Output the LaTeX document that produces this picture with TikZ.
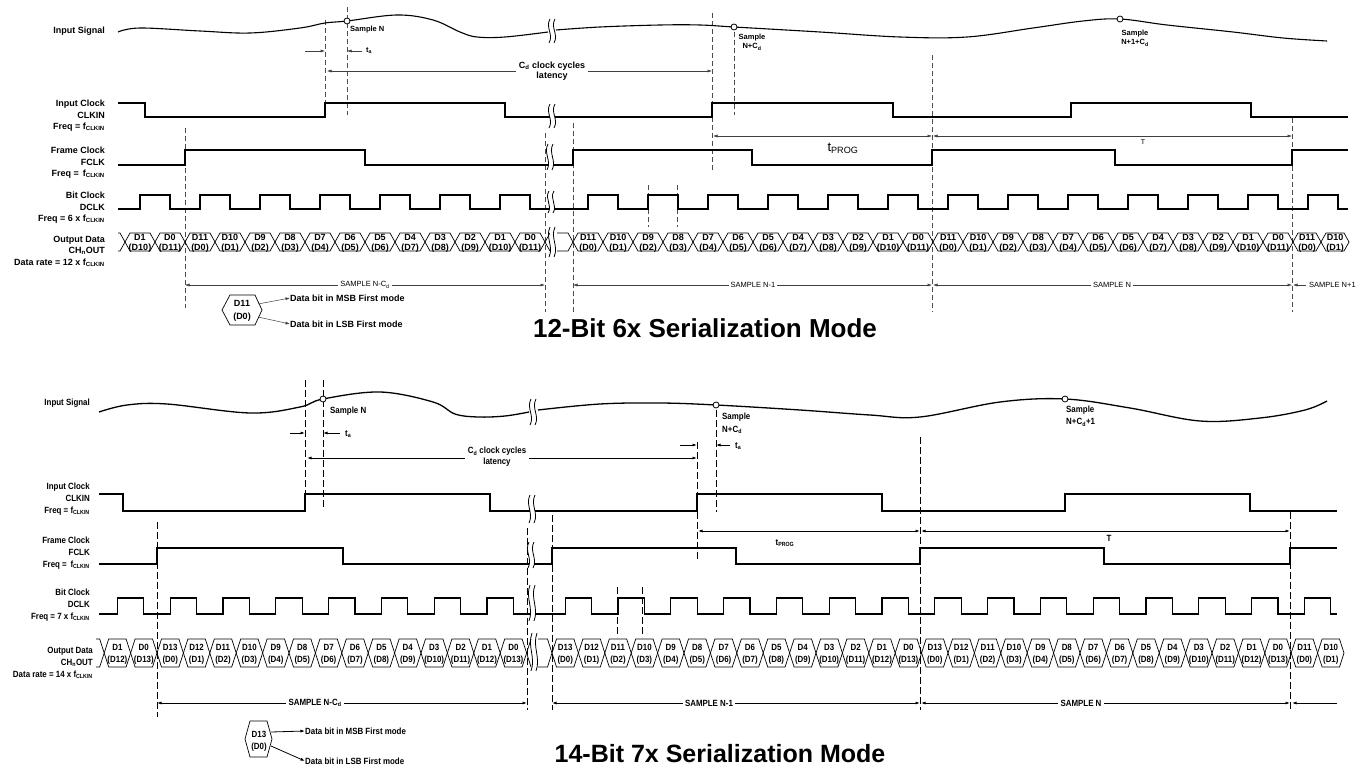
\documentclass[tikz,border=0pt]{standalone}
\usepackage{fontspec}
\setmainfont{Liberation Sans}
\newfontfamily\narrowsans[FakeStretch=0.88]{Liberation Sans}
\usetikzlibrary{arrows.meta}

\newcommand{\ssub}[1]{\textsubscript{#1}}
% break mark: x, y, half height
\newcommand{\cutmark}[3]{%
  \fill[white] (#1-2.5,#2-#3) rectangle (#1+2.5,#2+#3);
  \draw[cutline] (#1-2,#2-#3) .. controls (#1-7,#2-0.3*#3) and (#1+2,#2+0.3*#3) .. (#1-3,#2+#3);
  \draw[cutline] (#1+3,#2-#3) .. controls (#1-2,#2-0.3*#3) and (#1+7,#2+0.3*#3) .. (#1+2,#2+#3);
}

\tikzset{
  >={Latex[length=4.5pt,width=3pt]},
  wave/.style={line width=1.1pt},
  waveb/.style={line width=1.3pt},
  cell/.style={line width=0.7pt},
  cutline/.style={line width=0.8pt},
  dsh/.style={line width=0.6pt, black!70, dash pattern=on 5pt off 3pt},
  dshb/.style={line width=1pt, dash pattern=on 7pt off 3pt},
  dim/.style={line width=0.5pt, black!75},
  dimb/.style={line width=0.8pt},
  lbl/.style={font=\fontsize{9}{11.5}\selectfont\bfseries, align=right, anchor=east, inner sep=0pt},
  lblb/.style={font=\narrowsans\fontsize{9}{12.3}\selectfont\bfseries, align=right, anchor=east, inner sep=0pt},
  bitA/.style={font=\fontsize{9}{9}\selectfont\bfseries, inner sep=0pt},
  bitB/.style={font=\narrowsans\fontsize{9}{9}\selectfont\bfseries, inner sep=0pt},
  smpA/.style={font=\fontsize{7.5}{9.5}\selectfont\bfseries, inner sep=0pt},
  txtB/.style={font=\narrowsans\fontsize{9}{12}\selectfont\bfseries, inner sep=0pt},
  tagA/.style={font=\fontsize{7.5}{9}\selectfont, fill=white, inner sep=2pt},
  tagB/.style={font=\narrowsans\fontsize{9}{11}\selectfont\bfseries, fill=white, inner sep=2.5pt},
  note/.style={font=\fontsize{9}{11}\selectfont\bfseries, inner sep=0pt, anchor=west},
  noteb/.style={font=\narrowsans\fontsize{9}{11}\selectfont\bfseries, inner sep=0pt, anchor=west},
  dot/.style={circle, draw, fill=white, line width=0.8pt, inner sep=0pt, minimum size=6pt},
  ttl/.style={font=\fontsize{26}{30}\selectfont\bfseries, inner sep=0pt}
}

\begin{document}
\begin{tikzpicture}[x=1pt,y=-1pt]
  \fill[white] (0,0) rectangle (1360,770);
  \useasboundingbox (0,0) rectangle (1360,770);

  %%%%%%%%%% 12-bit 6x mode %%%%%%%%%%
  \node[lbl] (sigA) at (105,31) {Input Signal};
  \node[lbl] (clkA) at (105,116) {Input Clock\\CLKIN\\Freq = f\ssub{CLKIN}};
  \node[lbl] (fclkA) at (105,163) {Frame Clock\\FCLK\\Freq = \,f\ssub{CLKIN}};
  \node[lbl] (dclkA) at (105,208) {Bit Clock\\DCLK\\Freq = 6 x f\ssub{CLKIN}};
  \node[lbl] (outA) at (105,251) {Output Data\\CH\ssub{n}OUT\\Data rate = 12 x f\ssub{CLKIN}};

  % dashed markers
  \draw[dsh] (325,20) -- (325,117);
  \draw[dsh] (347,7) -- (347,115);
  \draw[dsh] (185,128) -- (185,308);
  \draw[dsh] (545,133) -- (545,312);
  \draw[dsh] (573,123) -- (573,312);
  \draw[dsh] (712,13) -- (712,170);
  \draw[dsh] (734,32) -- (734,115);
  \draw[dsh] (932,55) -- (932,312);
  \draw[dsh] (1292,118) -- (1292,312);
  \draw[dsh] (648,185) -- (648,227);
  \draw[dsh] (677,185) -- (677,227);

  % input signal
  \draw[wave] plot[smooth,tension=0.6] coordinates {(118,32) (140,28) (200,31) (250,33) (300,28) (325,23) (347,21) (397,15) (433,20) (460,32) (477,37) (505,37) (548,32)};
  \draw[wave] plot[smooth,tension=0.6] coordinates {(556,30) (600,27) (660,25) (700,25) (734,27) (820,32) (900,37) (967,37) (1033,28) (1083,21) (1120,19) (1167,25) (1233,32) (1283,38) (1327,41)};
  \node[dot] (smpN) at (347,21) {};
  \node[dot] (smpNC) at (734,27) {};
  \node[dot] (smpN1) at (1120,19) {};
  \node[smpA, anchor=west] (tsN) at (350,30) {Sample N};
  \node[smpA, align=center] (tsNC) at (752,42) {Sample\\N+C\ssub{d}};
  \node[smpA, align=center] (tsN1) at (1135,38) {Sample\\N+1+C\ssub{d}};

  % timing marks
  \draw[dim,->] (305,51) -- (325,51);
  \draw[dim,->] (362,51) -- (347,51);
  \node[smpA, anchor=west] (taA) at (366,51) {t\ssub{a}};
  \draw[dim,<->] (327,71) -- (712,71);
  \node[font=\fontsize{9}{10}\selectfont\bfseries, align=center, fill=white, inner sep=3pt] (latA) at (552,71) {C\ssub{d} clock cycles\\latency};
  \draw[dim,<->] (713,136) -- (932,136);
  \node[font=\fontsize{13}{14}\selectfont, inner sep=0pt] (tpA) at (843,148) {t\ssub{PROG}};
  \draw[dim,<->] (933,136) -- (1292,136);
  \node[font=\fontsize{7}{8}\selectfont, inner sep=0pt] (tA) at (1143,142) {T};

  % clocks
  \draw[wave] (118,103) -| (145,117) -| (325,103) -| (505,117) -| (712,103) -| (893,117) -| (1071,103) -| (1251,117) -- (1348,117);
  \draw[wave] (118,165) -| (185,150) -| (365,165) -| (573,150) -| (752,165) -| (932,150) -| (1115,165) -| (1292,150) -- (1348,150);
  \draw[wave] (118,209) \foreach \k in {0,...,6}{ -| (140+60*\k,195) -| (170+60*\k,209) }
    \foreach \k in {0,...,12}{ -| (588+60*\k,195) -| (618+60*\k,209) } -- (1348,209);

  % output data
  \draw[cell] (118,233) -- (120,233) -- (125,242) -- (120,251) -- (118,251);
  \foreach \hi/\lo [count=\i from 0] in {D1/D10,D0/D11,D11/D0,D10/D1,D9/D2,D8/D3,D7/D4,D6/D5,D5/D6,D4/D7,D3/D8,D2/D9,D1/D10,D0/D11}{
    \pgfmathsetmacro\xa{125+30*\i}
    \draw[cell] (\xa,242) -- ++(5,-9) -- ++(20,0) -- ++(5,9) -- ++(-5,9) -- ++(-20,0) -- cycle;
    \node[bitA] (pa\i) at (\xa+15,237) {\hi};
    \node[bitA] (qa\i) at (\xa+15,248) {(\lo)};
  }
  \draw[cell] (550,233) -- (545,242) -- (550,251);
  \draw[cell] (557,233) -- (568,233) -- (573,242) -- (568,251) -- (557,251);
  \foreach \r in {0,1}{
    \foreach \hi/\lo [count=\i from 0] in {D11/D0,D10/D1,D9/D2,D8/D3,D7/D4,D6/D5,D5/D6,D4/D7,D3/D8,D2/D9,D1/D10,D0/D11}{
      \pgfmathsetmacro\xa{573+360*\r+30*\i}
      \draw[cell] (\xa,242) -- ++(5,-9) -- ++(20,0) -- ++(5,9) -- ++(-5,9) -- ++(-20,0) -- cycle;
      \node[bitA] (pb\r-\i) at (\xa+15,237) {\hi};
      \node[bitA] (qb\r-\i) at (\xa+15,248) {(\lo)};
    }
  }
  \foreach \hi/\lo [count=\i from 0] in {D11/D0,D10/D1}{
    \pgfmathsetmacro\xa{1293+28*\i}
    \draw[cell] (\xa,242) -- ++(5,-9) -- ++(18,0) -- ++(5,9) -- ++(-5,9) -- ++(-18,0) -- cycle;
    \node[bitA] (pc\i) at (\xa+14,237) {\hi};
    \node[bitA] (qc\i) at (\xa+14,248) {(\lo)};
  }

  % breaks
  \cutmark{552}{31}{12}
  \cutmark{552}{116}{12}
  \cutmark{550}{157}{13}
  \cutmark{551}{202}{11}
  \cutmark{552}{242}{15}

  % sample spans
  \draw[dim,<->] (185,285) -- (545,285);
  \node[tagA] (spA1) at (365,285) {SAMPLE N-C\ssub{d}};
  \draw[dim,<->] (573,285) -- (932,285);
  \node[tagA] (spA2) at (753,285) {SAMPLE N-1};
  \draw[dim,<->] (933,285) -- (1292,285);
  \node[tagA] (spA3) at (1112,285) {SAMPLE N};
  \draw[dim,->] (1306,285) -- (1293,285);
  \node[tagA, anchor=west, inner sep=0pt] (spA4) at (1309,285) {SAMPLE N+1};

  % legend
  \draw[cell] (222,310) -- (230,295) -- (255,295) -- (262,310) -- (255,325) -- (230,325) -- cycle;
  \node[bitA] (lgA1) at (242,303) {D11};
  \node[bitA] (lgA2) at (242,317) {(D0)};
  \node[note] (msbA) at (290,298) {Data bit in MSB First mode};
  \node[note] (lsbA) at (290,324) {Data bit in LSB First mode};
  \draw[dim,->] (258,304) -- (msbA.west);
  \draw[dim,->] (258,317) -- (lsbA.west);

  \node[ttl] (ttlA) at (705,328) {12-Bit 6x Serialization Mode};

  %%%%%%%%%% 14-bit 7x mode %%%%%%%%%%
  \node[lblb] (sigB) at (90,403) {Input Signal};
  \node[lblb] (clkB) at (90,499) {Input Clock\\CLKIN\\Freq = f\ssub{CLKIN}};
  \node[lblb] (fclkB) at (90,553) {Frame Clock\\FCLK\\Freq = \,f\ssub{CLKIN}};
  \node[lblb] (dclkB) at (90,605) {Bit Clock\\DCLK\\Freq = 7 x f\ssub{CLKIN}};
  \node[lblb] (outB) at (93,663) {Output Data\\CH\ssub{n}OUT\\Data rate = 14 x f\ssub{CLKIN}};

  % dashed markers
  \draw[dshb] (305,380) -- (305,510);
  \draw[dshb] (323,380) -- (323,507);
  \draw[dshb] (157,522) -- (157,717);
  \draw[dshb] (527,528) -- (527,710);
  \draw[dshb] (552,515) -- (552,710);
  \draw[dshb] (697,442) -- (697,562);
  \draw[dshb] (716,410) -- (716,512);
  \draw[dshb] (920,437) -- (920,710);
  \draw[dshb] (1290,512) -- (1290,710);
  \draw[dshb] (617,587) -- (617,637);
  \draw[dshb] (642,587) -- (642,637);

  % input signal
  \draw[waveb] plot[smooth,tension=0.6] coordinates {(99,412) (127,405) (167,404) (250,413) (300,407) (323,399) (380,392) (433,402) (455,414) (478,417) (505,416) (529,412)};
  \draw[waveb] plot[smooth,tension=0.6] coordinates {(538,410) (600,404) (660,403) (716,405) (800,410) (870,415) (920,417) (1000,402) (1065,399) (1130,408) (1200,421) (1260,418) (1305,410) (1327,401)};
  \node[dot] (smpNb) at (323,399) {};
  \node[dot] (smpNCb) at (716,405) {};
  \node[dot] (smpN1b) at (1065,399) {};
  \node[txtB, anchor=west] (tsNb) at (330,411) {Sample N};
  \node[txtB, anchor=west, align=left, font=\narrowsans\fontsize{9}{13}\selectfont\bfseries] (tsNCb) at (722,423) {Sample\\N+C\ssub{d}};
  \node[txtB, anchor=west, align=left, font=\narrowsans\fontsize{9}{12.5}\selectfont\bfseries] (tsN1b) at (1066,416) {Sample\\N+C\ssub{d}+1};

  % timing marks
  \draw[dimb,->] (290,433) -- (305,433);
  \draw[dimb,->] (340,433) -- (323,433);
  \node[txtB, anchor=west] (taB1) at (345,434) {t\ssub{a}};
  \draw[dimb,<->] (307,458) -- (697,458);
  \node[tagB, align=center] (latB) at (497,457) {C\ssub{d} clock cycles\\latency};
  \draw[dimb,->] (680,445) -- (697,445);
  \draw[dimb,->] (730,445) -- (716,445);
  \node[txtB, anchor=west] (taB2) at (735,446) {t\ssub{a}};
  \draw[dimb,<->] (698,531) -- (920,531);
  \node[txtB] (tpB) at (785,543) {t\ssub{PROG}};
  \draw[dimb,<->] (921,531) -- (1290,531);
  \node[txtB] (tB) at (1109,538) {T};

  % clocks
  \draw[waveb] (99,494) -| (123,511) -| (305,494) -| (490,511) -| (697,494) -| (882,511) -| (1065,494) -| (1250,511) -- (1337,511);
  \draw[waveb] (99,564) -| (157,548) -| (343,564) -| (552,548) -| (736,564) -| (920,548) -| (1104,564) -| (1290,548) -- (1337,548);
  \draw[waveb] (99,614) \foreach \k in {0,...,7}{ -| (117.4+52.8*\k,598) -| (143.8+52.8*\k,614) }
    \foreach \k in {0,...,14}{ -| (565.2+52.8*\k,598) -| (591.6+52.8*\k,614) } -- (1337,614);

  % output data
  \draw[cell] (96,639) -- (99.7,639) -- (104.2,653) -- (99.7,667) -- (96,667);
  \foreach \hi/\lo [count=\i from 0] in {D1/D12,D0/D13,D13/D0,D12/D1,D11/D2,D10/D3,D9/D4,D8/D5,D7/D6,D6/D7,D5/D8,D4/D9,D3/D10,D2/D11,D1/D12,D0/D13}{
    \pgfmathsetmacro\xa{104.2+26.4*\i}
    \draw[cell] (\xa,653) -- ++(4.5,-14) -- ++(17.4,0) -- ++(4.5,14) -- ++(-4.5,14) -- ++(-17.4,0) -- cycle;
    \node[bitB] (ra\i) at (\xa+13.2,647) {\hi};
    \node[bitB] (sa\i) at (\xa+13.2,660) {(\lo)};
  }
  \draw[cell] (531,639) -- (526.6,653) -- (531,667);
  \draw[cell] (538,639) -- (547.5,639) -- (552,653) -- (547.5,667) -- (538,667);
  \foreach \r in {0,1}{
    \foreach \hi/\lo [count=\i from 0] in {D13/D0,D12/D1,D11/D2,D10/D3,D9/D4,D8/D5,D7/D6,D6/D7,D5/D8,D4/D9,D3/D10,D2/D11,D1/D12,D0/D13}{
      \pgfmathsetmacro\xa{552+369.6*\r+26.4*\i}
      \draw[cell] (\xa,653) -- ++(4.5,-14) -- ++(17.4,0) -- ++(4.5,14) -- ++(-4.5,14) -- ++(-17.4,0) -- cycle;
      \node[bitB] (rb\r-\i) at (\xa+13.2,647) {\hi};
      \node[bitB] (sb\r-\i) at (\xa+13.2,660) {(\lo)};
    }
  }
  \foreach \hi/\lo [count=\i from 0] in {D11/D0,D10/D1}{
    \pgfmathsetmacro\xa{1291.2+26.4*\i}
    \draw[cell] (\xa,653) -- ++(4.5,-14) -- ++(17.4,0) -- ++(4.5,14) -- ++(-4.5,14) -- ++(-17.4,0) -- cycle;
    \node[bitB] (rc\i) at (\xa+13.2,647) {\hi};
    \node[bitB] (sc\i) at (\xa+13.2,660) {(\lo)};
  }

  % breaks
  \cutmark{533}{412}{13}
  \cutmark{532}{509}{14}
  \cutmark{531}{555}{13}
  \cutmark{532}{603}{18}
  \cutmark{534}{652}{19}

  % sample spans
  \draw[dimb,<->] (157,703) -- (527,703);
  \node[tagB] (spB1) at (315,703) {SAMPLE N-C\ssub{d}};
  \draw[dimb,<->] (552,703) -- (920,703);
  \node[tagB] (spB2) at (709,703) {SAMPLE N-1};
  \draw[dimb,<->] (921,703) -- (1290,703);
  \node[tagB] (spB3) at (1081,703) {SAMPLE N};
  \draw[dimb,->] (1337,703) -- (1292,703);

  % legend
  \draw[cell] (245,739) -- (250,721) -- (267,721) -- (272,739) -- (267,757) -- (250,757) -- cycle;
  \node[bitB] (lgB1) at (259,734) {D13};
  \node[bitB] (lgB2) at (259,747) {(D0)};
  \node[noteb] (msbB) at (305,731) {Data bit in MSB First mode};
  \node[noteb] (lsbB) at (305,761) {Data bit in LSB First mode};
  \draw[dimb,->] (271,732) -- (msbB.west);
  \draw[dimb,->] (271,746) -- (lsbB.west);

  \node[ttl, font=\fontsize{25}{30}\selectfont\bfseries] (ttlB) at (720,754) {14-Bit 7x Serialization Mode};
\end{tikzpicture}
\end{document}
